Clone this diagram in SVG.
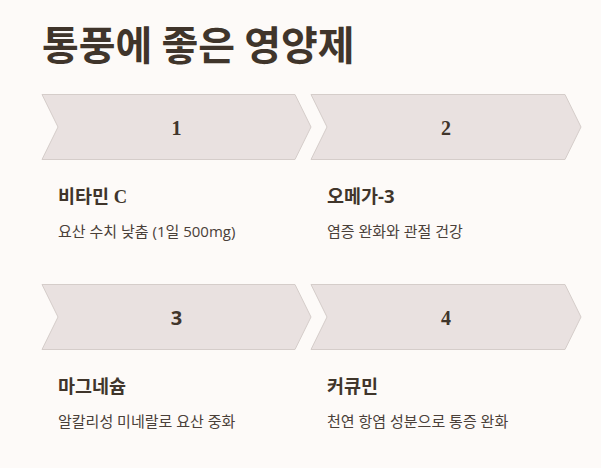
<svg xmlns="http://www.w3.org/2000/svg" width="601" height="468" viewBox="0 0 601 468">
<style>
.bg{fill:#fdfaf8}
.chev{fill:#e9e1e0;stroke:#d5cdca;stroke-width:1}
.title{font-family:"Noto Sans CJK KR","Noto Sans",sans-serif;font-weight:700;font-size:40px;fill:#40352b}
.num{font-family:"Liberation Serif","Noto Sans CJK KR",serif;font-weight:700;font-size:20px;fill:#40352b;text-anchor:middle}
.sans{font-family:"Open Sans","Noto Sans CJK KR",sans-serif}
.head{font-family:"Liberation Serif","Noto Sans CJK KR",serif;font-weight:700;font-size:18.5px;fill:#40352b}
.desc{font-family:"Open Sans","Noto Sans CJK KR",sans-serif;font-size:15px;fill:#4a4039}
</style>
<rect class="bg" x="0" y="0" width="601" height="468"/>
<text class="title" x="42" y="60">통풍에 좋은 영양제</text>
<g id="node1">
<polygon class="chev" points="42,94.5 295,94.5 311,127 295,159.5 42,159.5 58,127"/>
<text class="num" x="176.5" y="135">1</text>
<text class="head" x="58" y="203">비타민 C</text>
<text class="desc" x="58" y="237">요산 수치 낮춤 (1일 500mg)</text>
</g>
<g id="node2">
<polygon class="chev" points="311,94.5 565,94.5 581,127 565,159.5 311,159.5 327,127"/>
<text class="num" x="446" y="135">2</text>
<text class="head" x="327" y="203">오메가<tspan class="sans">-3</tspan></text>
<text class="desc" x="327" y="237">염증 완화와 관절 건강</text>
</g>
<g id="node3">
<polygon class="chev" points="42,284.5 295,284.5 311,317 295,349.5 42,349.5 58,317"/>
<text class="num sans" x="176.5" y="325">3</text>
<text class="head" x="58" y="393">마그네슘</text>
<text class="desc" x="58" y="427">알칼리성 미네랄로 요산 중화</text>
</g>
<g id="node4">
<polygon class="chev" points="311,284.5 565,284.5 581,317 565,349.5 311,349.5 327,317"/>
<text class="num" x="446" y="325">4</text>
<text class="head" x="327" y="393">커큐민</text>
<text class="desc" x="327" y="427">천연 항염 성분으로 통증 완화</text>
</g>
<g id="connectors"></g>
</svg>
